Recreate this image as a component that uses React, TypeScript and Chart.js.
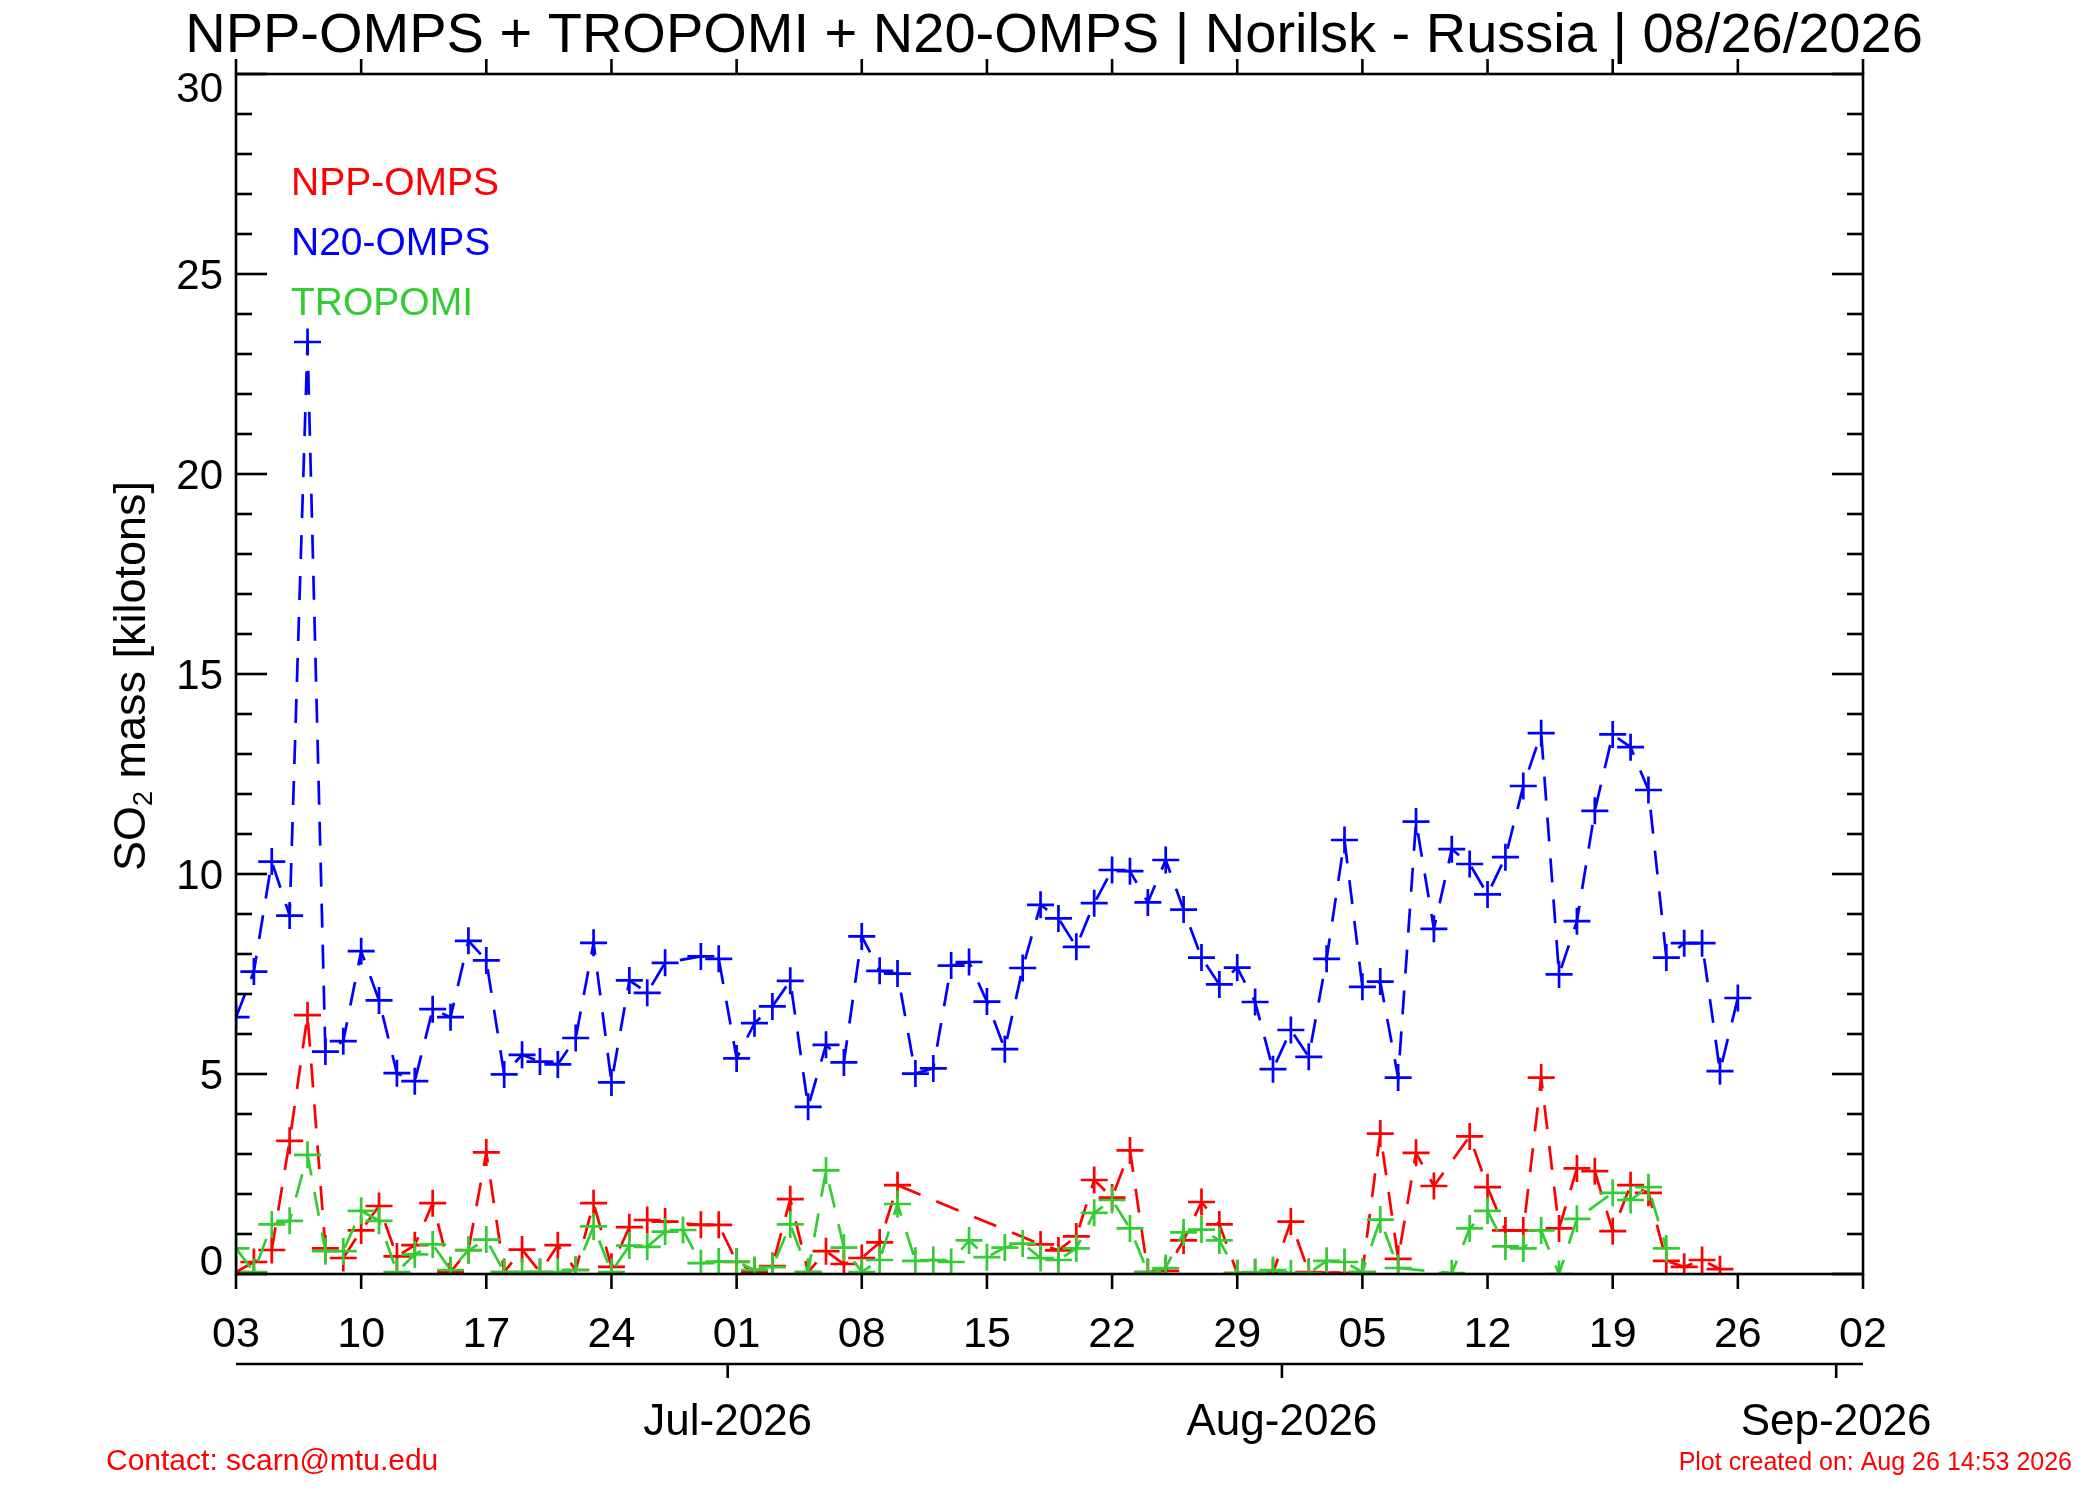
import React, { useEffect, useRef } from "react";
import { Chart, registerables } from "chart.js";

Chart.register(...registerables);

// ---- text ----
const TITLE = "NPP-OMPS + TROPOMI + N20-OMPS | Norilsk - Russia | 08/26/2026";
const LEGEND_LABELS = ["NPP-OMPS", "N20-OMPS", "TROPOMI"];
const CONTACT = "Contact: scarn@mtu.edu";
const CREATED = "Plot created on: Aug 26 14:53 2026";

// ---- axes ----
// day offsets counted from 03 Jun 2026
const X_MAX_DAYS = 91;
const dayTickLabels = ["03", "10", "17", "24", "01", "08", "15", "22", "29", "05", "12", "19", "26", "02"];
const monthTickDays = [27.5, 58.5, 89.5];
const monthLabels = ["Jul-2026", "Aug-2026", "Sep-2026"];
const yTickLabels = ["0", "5", "10", "15", "20", "25", "30"];

// ---- series (kilotons), one value per day from 03 Jun, null = no data ----
const n20Omps = [
  6.42, 7.56, 10.31, 8.96, 23.3, 5.56, 5.82, 8.07, 6.84, 5.02,
  4.82, 6.62, 6.42, 8.33, 7.84, 4.99, 5.48, 5.31, 5.24, 5.9,
  8.28, 4.79, 7.34, 7.03, 7.78, null, 7.94, 7.88, 5.39, 6.27,
  6.69, 7.33, 4.18, 5.73, 5.29, 8.44, 7.58, 7.51, 5.01, 5.14,
  7.71, 7.8, 6.81, 5.62, 7.65, 9.23, 8.89, 8.18, 9.27, 10.1,
  10.07, 9.29, 10.35, 9.11, 7.91, 7.24, 7.66, 6.8, 5.12, 6.1,
  5.43, 7.88, 10.85, 7.18, 7.31, 4.91, 11.31, 8.63, 10.62, 10.25,
  9.49, 10.42, 12.2, 13.52, 7.49, 8.82, 11.58, 13.49, 13.17, 12.1,
  7.91, 8.27, 8.27, 5.07, 6.9,
];

const nppOmps = [
  0.05, 0.3, 0.6, 3.33, 6.47, 0.64, 0.4, 1.09, 1.7, 0.44,
  0.72, 1.77, 0.05, 0.6, 3.04, 0.05, 0.61, 0.05, 0.72, 0.1,
  1.77, 0.18, 1.17, 1.35, 1.31, null, 1.23, 1.23, 0.3, 0.05,
  0.2, 1.87, 0.05, 0.57, 0.25, 0.4, 0.79, 2.22, null, null,
  null, null, null, null, null, 0.74, 0.59, 0.94, 2.35, 1.91,
  3.09, 0.05, 0.08, 0.84, 1.8, 1.24, 0.02, 0.03, 0.03, 1.31,
  0.05, 0.03, 0.03, 0.05, 3.51, 0.38, 3.03, 2.2, null, 3.44,
  2.17, 1.09, 1.09, 4.91, 1.14, 2.64, 2.57, 1.07, 2.22, 2.03,
  0.33, 0.18, 0.35, 0.12,
];

const tropomi = [
  0.64, 0.05, 1.24, 1.33, 2.98, 0.57, 0.57, 1.58, 1.33, 0.05,
  0.49, 0.74, 0.1, 0.59, 0.86, 0.05, 0.05, 0.05, 0.05, 0.1,
  1.19, 0.05, 0.71, 0.68, 1.06, 1.1, 0.27, 0.31, 0.31, 0.1,
  0.17, 1.24, 0.05, 2.59, 0.66, 0.05, 0.35, 1.75, 0.33, 0.35,
  0.3, 0.84, 0.42, 0.66, 0.76, 0.4, 0.35, 0.64, 1.53, 1.85,
  1.14, 0.05, 0.15, 1.04, 1.11, 0.84, 0.02, 0.05, 0.1, 0.02,
  0.02, 0.33, 0.3, 0.05, 1.36, 0.15, null, null, 0.02, 1.14,
  1.58, 0.69, 0.64, 1.09, 0.0, 1.38, null, 2.03, 1.85, 2.17,
  0.64,
];

const RED = "#ff0000";
const BLUE = "#0000ff";
const GREEN = "#32cd32";
const FONT = '"Liberation Sans", Arial, Helvetica, sans-serif';

const toPoints = (arr: (number | null)[]) => arr.map((v, i) => ({ x: i, y: v }));

const idlDecor = {
  id: "idlDecor",
  afterDraw(chart: any) {
    const { ctx, chartArea: a, scales } = chart;
    const xs = scales.x;
    const ys = scales.y;
    const seg = (x1: number, y1: number, x2: number, y2: number) => {
      ctx.beginPath();
      ctx.moveTo(x1, y1);
      ctx.lineTo(x2, y2);
      ctx.stroke();
    };
    ctx.save();
    ctx.strokeStyle = "#000";
    ctx.fillStyle = "#000";
    ctx.lineWidth = 2.6;
    ctx.lineCap = "butt";

    // frame
    ctx.strokeRect(a.left, a.top, a.right - a.left, a.bottom - a.top);

    // y ticks (inward, both sides)
    for (let v = 0; v <= 30; v++) {
      const py = ys.getPixelForValue(v);
      const len = v % 5 === 0 ? 31 : 16;
      seg(a.left, py, a.left + len, py);
      seg(a.right, py, a.right - len, py);
    }

    // x ticks (outward, top and bottom) + labels
    ctx.font = `43px ${FONT}`;
    ctx.textAlign = "center";
    ctx.textBaseline = "alphabetic";
    dayTickLabels.forEach((lab, i) => {
      const px = xs.getPixelForValue(i * 7);
      seg(px, a.bottom, px, a.bottom + 15);
      seg(px, a.top, px, a.top - 15);
      ctx.fillText(lab, px, a.bottom + 73);
    });

    // y labels
    ctx.font = `42px ${FONT}`;
    ctx.textAlign = "right";
    yTickLabels.forEach((lab) => {
      const v = Number(lab);
      const py = ys.getPixelForValue(v);
      let base = py + 15;
      if (v === 30) base = py + 28;
      if (v === 0) base = py + 1;
      ctx.fillText(lab, a.left - 13, base);
    });

    // secondary month axis
    const my = a.bottom + 90;
    seg(a.left, my, a.right, my);
    ctx.font = `44px ${FONT}`;
    ctx.textAlign = "center";
    monthTickDays.forEach((d, i) => {
      const px = xs.getPixelForValue(d);
      seg(px, my, px, my + 14);
      ctx.fillText(monthLabels[i], px, my + 71);
    });

    // title
    ctx.font = `56px ${FONT}`;
    ctx.textAlign = "center";
    ctx.fillText(TITLE, 1054, 52);

    // y axis title with subscript
    ctx.save();
    ctx.translate(145, (a.top + a.bottom) / 2 + 2);
    ctx.rotate(-Math.PI / 2);
    const big = `45px ${FONT}`;
    const small = `27px ${FONT}`;
    ctx.font = big;
    const w1 = ctx.measureText("SO").width;
    const w3 = ctx.measureText(" mass [kilotons]").width;
    ctx.font = small;
    const w2 = ctx.measureText("2").width;
    const x0 = -(w1 + w2 + w3) / 2;
    ctx.textAlign = "left";
    ctx.font = big;
    ctx.fillText("SO", x0, 0);
    ctx.font = small;
    ctx.fillText("2", x0 + w1, 7);
    ctx.font = big;
    ctx.fillText(" mass [kilotons]", x0 + w1 + w2, 0);
    ctx.restore();

    // legend text
    ctx.font = `39px ${FONT}`;
    ctx.textAlign = "left";
    const legendColors = [RED, BLUE, GREEN];
    LEGEND_LABELS.forEach((lab, i) => {
      ctx.fillStyle = legendColors[i];
      ctx.fillText(lab, 291, 195 + i * 60);
    });

    // footer
    ctx.fillStyle = RED;
    ctx.font = `30px ${FONT}`;
    ctx.textAlign = "left";
    ctx.fillText(CONTACT, 106, 1470);
    ctx.font = `25px ${FONT}`;
    ctx.textAlign = "right";
    ctx.fillText(CREATED, 2072, 1470);

    ctx.restore();
  },
};

export default function App() {
  const canvasRef = useRef<HTMLCanvasElement | null>(null);

  useEffect(() => {
    const canvas = canvasRef.current;
    if (!canvas) return;
    const common = {
      showLine: true,
      spanGaps: true,
      borderWidth: 2.7,
      borderDash: [24, 17],
      pointStyle: "cross",
      pointRadius: 13.5,
      pointBorderWidth: 2.7,
      pointHoverRadius: 13.5,
      clip: 0,
      fill: false,
      tension: 0,
    };
    const chart = new Chart(canvas, {
      type: "line",
      data: {
        datasets: [
          { ...common, label: "N20-OMPS", data: toPoints(n20Omps), borderColor: BLUE, backgroundColor: BLUE },
          { ...common, label: "TROPOMI", data: toPoints(tropomi), borderColor: GREEN, backgroundColor: GREEN },
          { ...common, label: "NPP-OMPS", data: toPoints(nppOmps), borderColor: RED, backgroundColor: RED },
        ] as any,
      },
      options: {
        animation: false,
        responsive: false,
        devicePixelRatio: 1,
        events: [],
        layout: { padding: { left: 236, right: 237, top: 74, bottom: 226 } },
        plugins: { legend: { display: false }, title: { display: false }, tooltip: { enabled: false } },
        scales: {
          x: { type: "linear", min: 0, max: X_MAX_DAYS, display: false },
          y: { type: "linear", min: 0, max: 30, display: false },
        },
      } as any,
      plugins: [idlDecor],
    });
    return () => chart.destroy();
  }, []);

  return (
    <div style={{ position: "absolute", left: 0, top: 0, width: 2100, height: 1500, background: "#fff" }}>
      <canvas ref={canvasRef} width={2100} height={1500} style={{ width: 2100, height: 1500, display: "block" }} />
    </div>
  );
}
